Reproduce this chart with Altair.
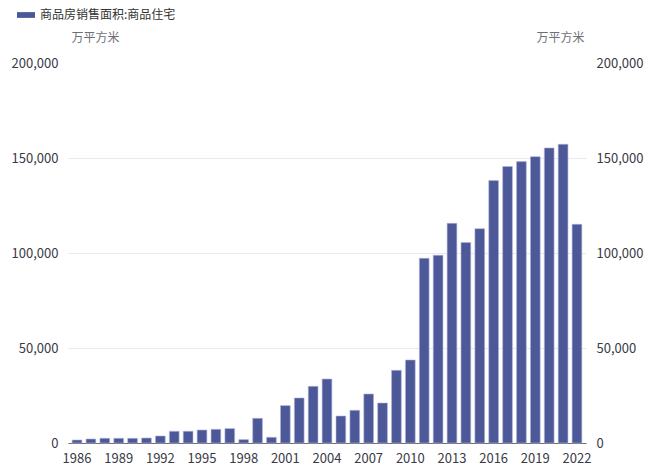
import altair as alt
import pandas as pd

years = [str(y) for y in range(1986, 2023)]
values = [1580, 2100, 2470, 2470, 2470, 2630, 3680, 6160, 6160, 6840, 7210, 7580,
          1790, 13000, 3000, 19680, 23690, 29840, 33680, 14210, 17210, 25790, 21050,
          38260, 43680, 97200, 98800, 115600, 105500, 112800, 138100, 145500, 148100,
          150700, 155300, 157200, 115100]
series_name = "商品房销售面积:商品住宅"
unit = "万平方米"
x_ticks = [str(y) for y in range(1986, 2023, 3)]
y_ticks = [0, 50000, 100000, 150000, 200000]

df = pd.DataFrame({"year": years, "value": values, "series": series_name})

FONT = "Noto Sans CJK SC"
BAR = "#4c5898"

x = alt.X("year:N", sort=None, title=None,
          scale=alt.Scale(paddingInner=0.3, paddingOuter=0.3),
          axis=alt.Axis(values=x_ticks, labelAngle=0, ticks=False, domainColor="#6e7079",
                        labelColor="#3a3a46", labelFontSize=13, labelFont=FONT, labelPadding=9,
                        grid=False))

ydom = alt.Scale(domain=[0, 200000], nice=False)

bars = alt.Chart(df).mark_bar(color=BAR, stroke="#aeb3d6", strokeWidth=0.6).encode(
    x=x,
    y=alt.Y("value:Q", scale=ydom, title=unit,
            axis=alt.Axis(values=y_ticks, format=",.0f", orient="left", domain=False, ticks=False,
                          gridColor="#e8e8f2",
                          gridOpacity={"condition": {"test": "datum.value >= 200000", "value": 0}, "value": 1},
                          labelColor="#3a3a46", labelFontSize=13,
                          labelFont=FONT, labelPadding=10, titleAngle=0, titleX=27, titleY=-26,
                          titleAlign="center", titleBaseline="middle", titleFontWeight="normal",
                          titleColor="#6e7079", titleFontSize=12, titleFont=FONT)),
    color=alt.Color("series:N", scale=alt.Scale(range=[BAR]),
                    legend=alt.Legend(orient="none", legendX=-51, legendY=-57, title=None,
                                      symbolType="M-1,-0.32H1V0.32H-1Z", symbolSize=324,
                                      symbolStrokeWidth=0, labelFontSize=12, labelFont=FONT,
                                      labelColor="#333333", labelOffset=5)),
)

right = alt.Chart(df).mark_bar(opacity=0).encode(
    x=x,
    y=alt.Y("value:Q", scale=ydom, title=unit,
            axis=alt.Axis(values=y_ticks, format=",.0f", orient="right", domain=False, ticks=False,
                          grid=False, labelColor="#3a3a46", labelFontSize=13,
                          labelFont=FONT, labelPadding=10, titleAngle=0, titleX=-26, titleY=-26,
                          titleAlign="center", titleBaseline="middle", titleFontWeight="normal",
                          titleColor="#6e7079", titleFontSize=12, titleFont=FONT)),
)

chart = alt.layer(bars, right).resolve_scale(y="independent").properties(
    width=518, height=380,
    autosize=alt.AutoSizeParams(type="none"),
    padding={"left": 68, "top": 63, "right": 71, "bottom": 28},
    background="white",
).configure_view(stroke=None)

chart.save("out.html", embed_options={"renderer": "svg", "actions": False})
